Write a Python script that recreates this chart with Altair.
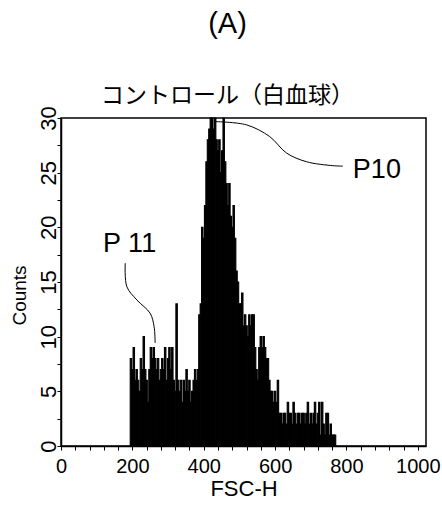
import altair as alt
import pandas as pd

# ---- data ----
bin_width = 4
bin_start = list(range(194, 770, bin_width))
counts = [
    8, 7, 9, 6, 7, 6, 5, 8, 7, 10,
    7, 6, 4, 7, 9, 8, 9, 8, 7, 8,
    6, 7, 8, 7, 9, 6, 8, 9, 7, 9,
    6, 5, 13, 6, 5, 6, 4, 6, 5, 7,
    5, 6, 4, 5, 6, 7, 6, 7, 12, 13,
    20, 19, 22, 26, 28, 29, 30, 30, 29, 30,
    28, 27, 28, 25, 27, 30, 26, 24, 22, 24,
    21, 20, 22, 19, 16, 15, 13, 13, 14, 11,
    12, 11, 10, 12, 11, 12, 12, 9, 7, 6,
    9, 10, 9, 10, 9, 8, 8, 6, 5, 5,
    4, 5, 4, 6, 3, 3, 2, 3, 3, 2,
    4, 3, 3, 2, 4, 3, 2, 3, 3, 2,
    3, 3, 2, 3, 4, 2, 3, 2, 3, 4,
    2, 3, 4, 1, 4, 2, 1, 3, 3, 1,
    2, 1, 1, 1,
]

x_ticks = list(range(0, 1001, 40))
y_ticks = [i * 2.5 for i in range(13)]

p10_x = [431.6, 520, 585, 632, 688, 762, 790]
p10_y = [29.67, 29.37, 28.3, 26.8, 26.0, 25.64, 25.6]
p11_x = [180, 184.6, 212.6, 249.8, 261, 263.8]
p11_y = [16.72, 14.57, 13.36, 12.14, 10.91, 9.42]

label_text = ["P10", "P 11"]
label_x = [818, 118]
label_y = [24.5, 17.75]

SANS = "Liberation Sans"
JP = "Noto Sans CJK JP"

hist = pd.DataFrame({
    "start": bin_start,
    "end": [s + bin_width for s in bin_start],
    "count": counts,
})

xscale = alt.Scale(domain=[0, 1023], nice=False, zero=False)
yscale = alt.Scale(domain=[0, 30], nice=False)

xaxis = alt.Axis(
    values=x_ticks, format="d",
    labelExpr="datum.value % 200 === 0 ? datum.label : ''",
    title="FSC-H", titleFont=SANS, titleFontSize=22, titleFontWeight="normal",
    titlePadding=2, labelFont=SANS, labelFontSize=20, labelPadding=6,
    tickSize=4, grid=False, labelFlush=False, labelOverlap=False,
)
yaxis = alt.Axis(
    values=y_ticks,
    labelExpr="datum.value % 5 === 0 ? datum.label : ''",
    title="Counts", titleFont=SANS, titleFontSize=19, titleFontWeight="normal",
    titleAngle=-90, titleBaseline="alphabetic", titleX=-36, titleY=177,
    labelFont=SANS, labelFontSize=22, labelAngle=-90, labelAlign="center",
    labelBaseline="alphabetic", labelPadding=2, tickSize=4, grid=False,
    labelFlush=False, labelOverlap=False,
)

bars = alt.Chart(hist).mark_bar(color="black", stroke="black", strokeWidth=1.1).encode(
    x=alt.X("start:Q", scale=xscale, axis=xaxis),
    x2="end:Q",
    y=alt.Y("count:Q", scale=yscale, axis=yaxis),
    y2=alt.datum(0),
)

def leader(xs, ys):
    d = pd.DataFrame({"v": xs, "c": ys, "o": list(range(len(xs)))})
    return alt.Chart(d).mark_line(color="black", strokeWidth=1, interpolate="catmull-rom").encode(
        x=alt.X("v:Q", scale=xscale, axis=xaxis),
        y=alt.Y("c:Q", scale=yscale, axis=yaxis),
        order="o:Q",
    )

labels = alt.Chart(pd.DataFrame({"t": label_text, "v": label_x, "c": label_y})).mark_text(
    font=SANS, fontSize=27, align="left", baseline="alphabetic", color="black"
).encode(
    x=alt.X("v:Q", scale=xscale, axis=xaxis),
    y=alt.Y("c:Q", scale=yscale, axis=yaxis),
    text="t:N",
)

chart = alt.layer(bars, leader(p10_x, p10_y), leader(p11_x, p11_y), labels).properties(
    width=365, height=328,
    title=alt.TitleParams(
        text="(A)", subtitle="コントロール（白血球）",
        font=SANS, fontSize=29, fontWeight="normal", color="black",
        subtitleFont=JP, subtitleFontSize=23, subtitleColor="black",
        subtitlePadding=46, offset=-2, anchor="middle", dx=-16,
    ),
    autosize=alt.AutoSizeParams(type="none"),
    padding={"left": 61, "top": 118, "right": 16, "bottom": 62},
).configure_view(stroke="black", strokeWidth=1.5).configure_axis(
    domainColor="black", domainWidth=1.5, tickColor="black", labelColor="black", titleColor="black"
)

chart.save("out.html", embed_options={"renderer": "svg", "actions": False})
